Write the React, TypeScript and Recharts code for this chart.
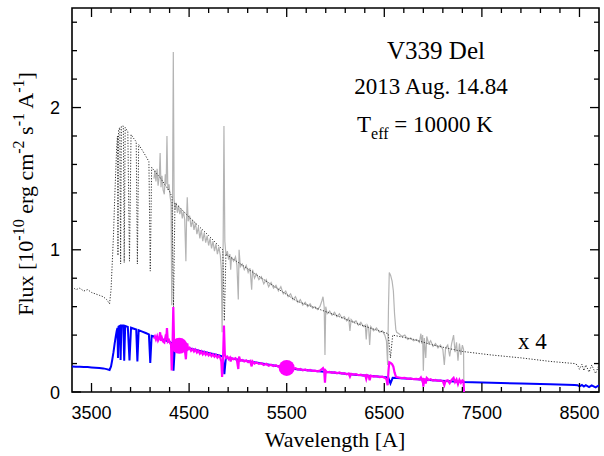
import React from 'react';
import { ComposedChart, Line, Scatter, XAxis, YAxis, ReferenceArea } from 'recharts';

// model spectrum (x4 dotted, and unscaled blue)
const modelWave = [
  3300, 3340, 3380, 3420, 3460, 3500, 3540, 3580, 3620, 3655, 3685, 3700, 3712, 3725, 3737, 3748, 3758, 3766,
  3771, 3777, 3790, 3798, 3806, 3826, 3835, 3845, 3872, 3889, 3905, 3935, 3958, 3970, 3983, 4020, 4055, 4088,
  4102, 4116, 4150, 4200, 4250, 4300, 4325, 4340, 4355, 4400, 4500, 4600, 4700, 4800, 4845, 4861, 4877, 4950,
  5050, 5200, 5400, 5600, 5800, 6000, 6200, 6400, 6540, 6563, 6586, 6800, 7000, 7300, 7600, 7900, 8200, 8450,
  8480, 8500, 8525, 8545, 8565, 8598, 8625, 8665, 8700,
];
const modelScaled = [
  0.74, 0.72, 0.73, 0.71, 0.72, 0.70, 0.69, 0.68, 0.67, 0.65, 0.62, 0.72, 0.90, 1.10, 1.35, 1.55, 1.72, 1.80,
  0.96, 1.84, 1.86, 0.90, 1.87, 1.87, 0.91, 1.86, 1.83, 0.92, 1.81, 1.78, 1.76, 0.90, 1.74, 1.70, 1.66, 1.62,
  0.85, 1.58, 1.55, 1.51, 1.46, 1.41, 1.37, 0.60, 1.33, 1.30, 1.23, 1.165, 1.10, 1.03, 1.00, 0.50, 0.97, 0.935,
  0.89, 0.82, 0.73, 0.64, 0.59, 0.54, 0.485, 0.44, 0.41, 0.24, 0.40, 0.37, 0.33, 0.285, 0.26, 0.24, 0.215, 0.20,
  0.19, 0.16, 0.195, 0.15, 0.19, 0.14, 0.19, 0.13, 0.19,
];
const modelFlux = [
  0.180, 0.178, 0.177, 0.176, 0.175, 0.173, 0.171, 0.169, 0.166, 0.161, 0.155, 0.18, 0.225, 0.28, 0.34, 0.39, 0.43, 0.45,
  0.24, 0.46, 0.465, 0.225, 0.468, 0.468, 0.22, 0.465, 0.458, 0.222, 0.452, 0.445, 0.44, 0.215, 0.435, 0.425, 0.415, 0.405,
  0.205, 0.395, 0.388, 0.377, 0.365, 0.352, 0.342, 0.15, 0.332, 0.325, 0.308, 0.291, 0.275, 0.258, 0.25, 0.125, 0.243, 0.234,
  0.222, 0.205, 0.183, 0.16, 0.148, 0.135, 0.121, 0.11, 0.102, 0.06, 0.10, 0.092, 0.083, 0.071, 0.065, 0.06, 0.054, 0.05,
  0.048, 0.04, 0.049, 0.038, 0.048, 0.035, 0.047, 0.033, 0.047,
];

// observed spectrum (x4 grey, and unscaled magenta)
const obsWave = [
  4140, 4150, 4160, 4172, 4182, 4195, 4203, 4212, 4222, 4234, 4246, 4256, 4265, 4273, 4282, 4294, 4306, 4315,
  4322, 4330, 4338, 4346, 4356, 4368, 4380, 4392, 4405, 4418, 4430, 4442, 4455, 4467, 4474, 4481, 4490, 4505,
  4520, 4535, 4550, 4565, 4580, 4595, 4610, 4625, 4640, 4655, 4670, 4685, 4700, 4715, 4730, 4745, 4760, 4775,
  4790, 4805, 4820, 4830, 4838, 4848, 4857, 4866, 4878, 4892, 4905, 4918, 4926, 4935, 4955, 4975, 4990, 5004,
  5012, 5025, 5045, 5065, 5085, 5105, 5124, 5141, 5150, 5170, 5190, 5215, 5240, 5265, 5290, 5315, 5340, 5365,
  5390, 5415, 5440, 5465, 5490, 5515, 5540, 5565, 5590, 5615, 5640, 5665, 5690, 5715, 5740, 5765, 5790, 5815,
  5840, 5860, 5872, 5884, 5892, 5900, 5915, 5940, 5965, 5990, 6015, 6040, 6065, 6090, 6115, 6135, 6148, 6160,
  6185, 6210, 6235, 6260, 6285, 6305, 6315, 6325, 6340, 6350, 6362, 6390, 6420, 6450, 6480, 6505, 6522, 6534,
  6543, 6551, 6565, 6580, 6593, 6605, 6618, 6627, 6650, 6680, 6710, 6740, 6770, 6800, 6830, 6860, 6875, 6885,
  6893, 6900, 6910, 6925, 6935, 6955, 6975, 7000, 7025, 7050, 7075, 7100, 7115, 7128, 7150, 7170, 7190, 7210,
  7225, 7240, 7255, 7270, 7285, 7300, 7312, 7316,
];
const obsScaled = [
  1.50, 1.56, 1.48, 1.57, 1.45, 1.52, 1.68, 1.44, 1.52, 1.42, 1.39, 1.53, 1.46, 1.80, 1.42, 1.46, 1.37, 1.33,
  0.61, 1.28, 2.39, 1.36, 1.28, 1.33, 1.26, 1.31, 1.25, 1.29, 1.22, 1.27, 1.21, 0.92, 1.22, 1.37, 1.20, 1.24,
  1.16, 1.21, 1.14, 1.19, 1.11, 1.16, 1.08, 1.14, 1.06, 1.12, 1.05, 1.10, 1.03, 1.08, 1.01, 1.06, 0.99, 1.04,
  0.97, 1.02, 0.96, 0.86, 0.42, 0.96, 1.87, 1.06, 0.96, 0.99, 0.93, 0.97, 0.86, 0.95, 0.92, 0.95, 0.89, 0.65,
  1.00, 0.88, 0.90, 0.86, 0.89, 0.84, 0.87, 0.72, 0.86, 0.80, 0.83, 0.79, 0.81, 0.76, 0.79, 0.74, 0.77, 0.73,
  0.75, 0.71, 0.74, 0.69, 0.71, 0.67, 0.69, 0.65, 0.67, 0.63, 0.65, 0.61, 0.63, 0.60, 0.62, 0.59, 0.60, 0.58,
  0.60, 0.64, 0.67, 0.60, 0.26, 0.60, 0.55, 0.57, 0.54, 0.56, 0.53, 0.55, 0.52, 0.53, 0.50, 0.52, 0.43, 0.51,
  0.49, 0.50, 0.47, 0.49, 0.46, 0.47, 0.37, 0.47, 0.45, 0.33, 0.46, 0.43, 0.45, 0.42, 0.43, 0.40, 0.36, 0.19,
  0.60, 0.84, 0.82, 0.78, 0.71, 0.55, 0.44, 0.42, 0.41, 0.39, 0.40, 0.37, 0.38, 0.36, 0.37, 0.35, 0.41, 0.34,
  0.40, 0.15, 0.38, 0.24, 0.39, 0.34, 0.36, 0.32, 0.34, 0.31, 0.33, 0.30, 0.19, 0.31, 0.33, 0.25, 0.34, 0.40,
  0.28, 0.35, 0.22, 0.34, 0.26, 0.33, 0.30, 0.0,
];
const obsFlux = [
  0.375, 0.39, 0.37, 0.392, 0.362, 0.38, 0.42, 0.36, 0.38, 0.355, 0.348, 0.382, 0.365, 0.45, 0.355, 0.365, 0.342, 0.332,
  0.152, 0.32, 0.598, 0.34, 0.32, 0.332, 0.315, 0.328, 0.312, 0.322, 0.305, 0.318, 0.302, 0.23, 0.305, 0.342, 0.30, 0.31,
  0.29, 0.302, 0.285, 0.298, 0.278, 0.29, 0.27, 0.285, 0.265, 0.28, 0.262, 0.275, 0.258, 0.27, 0.252, 0.265, 0.248, 0.26,
  0.242, 0.255, 0.24, 0.215, 0.105, 0.24, 0.468, 0.265, 0.24, 0.248, 0.232, 0.242, 0.215, 0.238, 0.23, 0.238, 0.222, 0.162,
  0.25, 0.22, 0.225, 0.215, 0.222, 0.21, 0.218, 0.18, 0.215, 0.20, 0.208, 0.198, 0.202, 0.19, 0.198, 0.185, 0.192, 0.182,
  0.188, 0.178, 0.185, 0.172, 0.178, 0.168, 0.172, 0.162, 0.168, 0.158, 0.162, 0.152, 0.158, 0.15, 0.155, 0.148, 0.15, 0.145,
  0.15, 0.16, 0.168, 0.15, 0.065, 0.15, 0.138, 0.142, 0.135, 0.14, 0.132, 0.138, 0.13, 0.132, 0.125, 0.13, 0.108, 0.128,
  0.122, 0.125, 0.118, 0.122, 0.115, 0.118, 0.092, 0.118, 0.112, 0.082, 0.115, 0.108, 0.112, 0.105, 0.108, 0.10, 0.09, 0.048,
  0.15, 0.21, 0.205, 0.195, 0.178, 0.138, 0.11, 0.105, 0.102, 0.098, 0.10, 0.092, 0.095, 0.09, 0.092, 0.088, 0.102, 0.085,
  0.10, 0.038, 0.095, 0.06, 0.098, 0.085, 0.09, 0.08, 0.085, 0.078, 0.082, 0.075, 0.048, 0.078, 0.082, 0.062, 0.085, 0.10,
  0.07, 0.088, 0.055, 0.085, 0.065, 0.082, 0.075, 0.0,
];

// photometric points
const photWave = [4400, 5500];
const photFlux = [0.325, 0.169];

const xTicks = [3500, 3700, 3900, 4100, 4300, 4500, 4700, 4900, 5100, 5300, 5500, 5700, 5900, 6100, 6300, 6500, 6700, 6900, 7100, 7300, 7500, 7700, 7900, 8100, 8300, 8500];
const yTicks = [0, 0.2, 0.4, 0.6, 0.8, 1, 1.2, 1.4, 1.6, 1.8, 2, 2.2, 2.4, 2.6];

const modelDotted = modelWave.map((w, i) => ({ w, f: modelScaled[i] }));
const modelBlue = modelWave.map((w, i) => ({ w, f: modelFlux[i] }));
const obsGrey = obsWave.map((w, i) => ({ w, f: obsScaled[i] }));
const obsMagenta = obsWave.map((w, i) => ({ w, f: obsFlux[i] }));
const phot = photWave.map((w, i) => ({ w, f: photFlux[i] }));

const W = 604;
const H = 456;
const PLOT_TOP = 8;
const PLOT_BOTTOM = 392;
const PLOT_LEFT = 72;
const PLOT_RIGHT = 599;
const SERIF = '"Liberation Serif", "Times New Roman", serif';
const SANS = '"Liberation Sans", Arial, sans-serif';

const XTick = (props: any) => {
  const { x, payload } = props;
  const v = payload.value;
  const major = (v - 3500) % 1000 === 0;
  const len = major ? 9 : 5;
  return (
    <g>
      <line x1={x} x2={x} y1={PLOT_BOTTOM} y2={PLOT_BOTTOM - len} stroke="#000" strokeWidth={1.3} />
      <line x1={x} x2={x} y1={PLOT_TOP} y2={PLOT_TOP + len} stroke="#000" strokeWidth={1.3} />
      {major && (
        <text x={x} y={PLOT_BOTTOM + 27} textAnchor="middle" fontFamily={SANS} fontSize={18} fill="#000">
          {v}
        </text>
      )}
    </g>
  );
};

const YTick = (props: any) => {
  const { y, payload } = props;
  const v = payload.value;
  const major = Math.abs(v - Math.round(v)) < 1e-6;
  const len = major ? 9 : 5;
  return (
    <g>
      <line x1={PLOT_LEFT} x2={PLOT_LEFT + len} y1={y} y2={y} stroke="#000" strokeWidth={1.3} />
      <line x1={PLOT_RIGHT} x2={PLOT_RIGHT - len} y1={y} y2={y} stroke="#000" strokeWidth={1.3} />
      {major && (
        <text x={60} y={y + 6.5} textAnchor="end" fontFamily={SANS} fontSize={18} fill="#000">
          {Math.round(v)}
        </text>
      )}
    </g>
  );
};

// x-axis title plus the text written inside the plot
const XLabel = () => (
  <g fontFamily={SERIF} fill="#000">
    <text x={335} y={447} textAnchor="middle" fontSize={22}>Wavelength [A]</text>
    <text x={436} y={59} textAnchor="middle" fontSize={25}>V339 Del</text>
    <text x={431} y={94} textAnchor="middle" fontSize={23}>2013 Aug. 14.84</text>
    <text x={357} y={132} fontSize={23}>
      T<tspan fontSize={16} dy={7}>eff</tspan>
      <tspan dy={-7}> = 10000 K</tspan>
    </text>
    <text x={518} y={349} fontSize={23}>x 4</text>
  </g>
);

const YLabel = () => (
  <text x={0} y={0} transform="translate(33,194) rotate(-90)" textAnchor="middle" fontFamily={SERIF} fontSize={22} fill="#000">
    Flux [10<tspan fontSize={16} dy={-9}>-10</tspan>
    <tspan dy={9}> erg cm</tspan>
    <tspan fontSize={16} dy={-9}>-2</tspan>
    <tspan dy={9}> s</tspan>
    <tspan fontSize={16} dy={-9}>-1</tspan>
    <tspan dy={9}> A</tspan>
    <tspan fontSize={16} dy={-9}>-1</tspan>
    <tspan dy={9}>]</tspan>
  </text>
);

export default function App() {
  return (
    <div style={{ position: 'absolute', left: 0, top: 0, width: W, height: H, background: '#fff' }}>
      <ComposedChart width={W} height={H} margin={{ top: PLOT_TOP, right: W - PLOT_RIGHT, bottom: 0, left: 0 }}>
        <XAxis
          dataKey="w"
          type="number"
          domain={[3300, 8700]}
          allowDataOverflow
          ticks={xTicks}
          interval={0}
          height={H - PLOT_BOTTOM}
          tickSize={0}
          tickMargin={0}
          tickLine={false}
          axisLine={false}
          tick={<XTick />}
          label={<XLabel />}
        />
        <YAxis
          dataKey="f"
          type="number"
          domain={[0, 2.7]}
          allowDataOverflow
          ticks={yTicks}
          interval={0}
          width={PLOT_LEFT}
          tickSize={0}
          tickMargin={0}
          tickLine={false}
          axisLine={false}
          tick={<YTick />}
          label={<YLabel />}
        />
        <Line data={obsGrey} dataKey="f" type="linear" stroke="#b4b4b4" strokeWidth={1.2} dot={false} isAnimationActive={false} />
        <Line data={modelDotted} dataKey="f" type="linear" stroke="#333" strokeWidth={1} strokeDasharray="1.2 1.6" dot={false} isAnimationActive={false} />
        <Line data={modelBlue} dataKey="f" type="linear" stroke="#0000ff" strokeWidth={2} dot={false} isAnimationActive={false} />
        <Line data={obsMagenta} dataKey="f" type="linear" stroke="#ff00ff" strokeWidth={2.2} dot={false} isAnimationActive={false} />
        <Scatter
          data={phot}
          dataKey="f"
          isAnimationActive={false}
          shape={(p: any) => <circle cx={p.cx} cy={p.cy} r={8} fill="#ff00ff" />}
        />
        <ReferenceArea x1={3300} x2={8700} y1={0} y2={2.7} fill="none" stroke="#000" strokeWidth={1.6} />
      </ComposedChart>
    </div>
  );
}
